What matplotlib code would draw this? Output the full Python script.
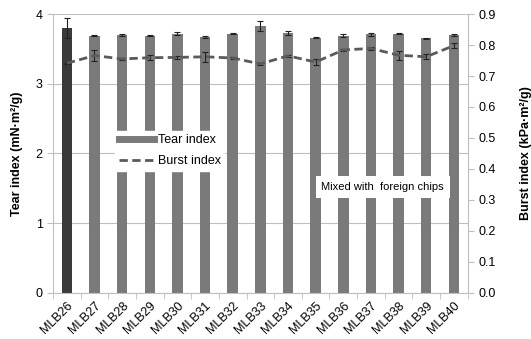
import matplotlib.pyplot as plt
import numpy as np
from matplotlib.lines import Line2D

plt.rcParams['font.family'] = ['Liberation Sans', 'DejaVu Sans']

# Sampel dan hasil uji
sampel = ['MLB26', 'MLB27', 'MLB28', 'MLB29', 'MLB30', 'MLB31', 'MLB32', 'MLB33',
          'MLB34', 'MLB35', 'MLB36', 'MLB37', 'MLB38', 'MLB39', 'MLB40']
tear_index = [3.80, 3.69, 3.70, 3.69, 3.72, 3.67, 3.72, 3.83,
              3.73, 3.66, 3.69, 3.71, 3.72, 3.65, 3.70]
tear_err = [0.14, 0.01, 0.01, 0.01, 0.02, 0.01, 0.01, 0.07,
            0.03, 0.01, 0.02, 0.02, 0.01, 0.01, 0.01]
burst_index = [0.741, 0.766, 0.755, 0.759, 0.760, 0.762, 0.758, 0.739,
               0.765, 0.745, 0.784, 0.789, 0.767, 0.762, 0.798]
burst_err = [0.002, 0.017, 0.002, 0.008, 0.004, 0.017, 0.002, 0.002,
             0.004, 0.009, 0.004, 0.004, 0.015, 0.008, 0.009]

x = np.arange(len(sampel))
warna_bar = ['#3a3a3a'] + ['#7a7a7a'] * (len(sampel) - 1)
abu = '#bfbfbf'

fig = plt.figure(figsize=(5.31, 3.39), dpi=100)
ax = fig.add_axes([0.0998, 0.1357, 0.781, 0.823])

ax.bar(x, tear_index, width=0.38, color=warna_bar, zorder=2)
ax.errorbar(x, tear_index, yerr=tear_err, fmt='none', ecolor='#222222',
            elinewidth=0.8, capsize=2.5, capthick=0.8, zorder=3)
ax.set_ylim(0, 4)
ax.set_xlim(-0.5, len(sampel) - 0.5)
ax.set_yticks([0, 1, 2, 3, 4])
ax.yaxis.grid(True, color=abu, linewidth=0.8, zorder=0)
ax.set_axisbelow(True)
ax.set_ylabel('Tear index (mN·m²/g)', fontsize=9, fontweight='bold', labelpad=9)

ax.set_xticks(x)
ax.set_xticklabels(sampel, rotation=45, ha='right', rotation_mode='anchor', fontsize=9)
ax.tick_params(axis='x', length=0, pad=5)
ax.set_xticks(np.arange(-0.5, len(sampel), 1), minor=True)
ax.tick_params(axis='x', which='minor', length=4, color=abu)
ax.tick_params(axis='y', length=4, color=abu, labelsize=9)

for s in ['top', 'right']:
    ax.spines[s].set_visible(False)
for s in ['left', 'bottom']:
    ax.spines[s].set_color(abu)

ax2 = ax.twinx()
ax2.errorbar(x, burst_index, yerr=burst_err, color='#5a5a5a', linestyle=(0, (3, 1.6)),
             linewidth=2, ecolor='#222222', elinewidth=0.8, capsize=2.5, capthick=0.8,
             zorder=4)
ax2.set_ylim(0, 0.9)
ax2.set_yticks(np.arange(0, 0.91, 0.1))
ax2.set_yticklabels([f'{v:.1f}' for v in np.arange(0, 0.91, 0.1)])
ax2.tick_params(axis='y', length=4, color=abu, labelsize=9)
ax2.set_ylabel('Burst index (kPa·m²/g)', fontsize=9, fontweight='bold', labelpad=18)
for s in ['top', 'left', 'bottom']:
    ax2.spines[s].set_visible(False)
ax2.spines['right'].set_color(abu)

handles = [Line2D([0], [0], color='#7a7a7a', linewidth=5),
           Line2D([0], [0], color='#5a5a5a', linewidth=2, linestyle=(0, (3, 1.6)))]
leg = ax2.legend(handles, ['Tear index', 'Burst index'], loc='center left',
                 bbox_to_anchor=(0.135, 0.51), fontsize=9, frameon=True,
                 fancybox=False, edgecolor='white', framealpha=1,
                 handlelength=2.8, handletextpad=0.3, borderpad=0.3, labelspacing=0.7)
leg.set_zorder(10)

ax2.text(0.795, 0.38, 'Mixed with  foreign chips', transform=ax2.transAxes,
         fontsize=8, ha='center', va='center', zorder=10,
         bbox=dict(facecolor='white', edgecolor='none', pad=4))

fig.savefig('out.png', dpi=100)
